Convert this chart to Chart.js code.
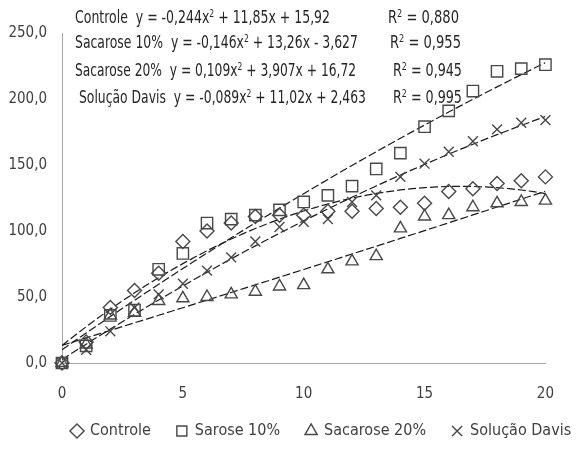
<!DOCTYPE html>
<html>
<head>
<meta charset="utf-8">
<script src="https://cdn.jsdelivr.net/npm/chart.js@4"></script>
<style>
    html, body { margin: 0; padding: 0; background: #fff; }
    #wrap { position: relative; width: 576px; height: 453px; overflow: hidden; }
    .eq {
        position: absolute;
        font-family: 'DejaVu Sans Condensed', 'DejaVu Sans', sans-serif;
        font-size: 18px;
        line-height: 20px;
        color: #262626;
        white-space: pre;
        transform-origin: 0 0;
    }
    .eq sup { font-size: 0.62em; line-height: 0; vertical-align: 0.55em; }
</style>
</head>
<body>
<div id="wrap">
    <canvas id="chart" width="576" height="453"></canvas>
</div>
<script>
// ====================================
// DATA
// ====================================

const days = [0, 1, 2, 3, 4, 5, 6, 7, 8, 9, 10, 11, 12, 13, 14, 15, 16, 17, 18, 19, 20];

const controle   = [0, 16, 42, 55, 68, 92, 100, 106, 111, 112, 112, 115, 115, 117, 118, 121, 130, 132, 136, 138, 141];
const sacarose10 = [0, 13, 36, 40, 71, 83, 106, 109, 112, 116, 122, 127, 134, 147, 159, 179, 191, 206, 221, 223, 226];
const sacarose20 = [0, 14, 36, 38, 47, 49, 50, 52, 54, 58, 59, 71, 77, 81, 102, 111, 112, 118, 121, 122, 123];
const davis      = [0, 10, 24, 42, 52, 60, 70, 80, 92, 103, 107, 109, 122, 127, 141, 151, 160, 168, 177, 182, 184];

const legendNames = ['Controle', 'Sarose 10%', 'Sacarose 20%', 'Solução Davis'];
const pointStyles = ['rectRot', 'rect', 'triangle', 'crossRot'];

const yTicks = [0, 50, 100, 150, 200, 250];
const xTicks = [0, 5, 10, 15, 20];

// equation box text
const fitNames = ['Controle', 'Sacarose 10%', 'Sacarose 20%', 'Solução Davis'];
const fitEquations = [
    'y = -0,244x<sup>2</sup> + 11,85x + 15,92',
    'y = -0,146x<sup>2</sup> + 13,26x - 3,627',
    'y = 0,109x<sup>2</sup> + 3,907x + 16,72',
    'y = -0,089x<sup>2</sup> + 11,02x + 2,463'
];
const fitR2 = ['0,880', '0,955', '0,945', '0,995'];

const FONT = "'DejaVu Sans Condensed', 'DejaVu Sans', sans-serif";
const TEXT_COLOR = '#404040';
const MARK_COLOR = '#484848';

// ====================================
// HELPERS
// ====================================

// least squares fit of y = a + b*x + c*x^2
function quadFit(xs, ys) {
    let s = [0, 0, 0, 0, 0];
    let t = [0, 0, 0];
    xs.forEach((x, i) => {
        for (let k = 0; k < 5; k++) s[k] += Math.pow(x, k);
        for (let k = 0; k < 3; k++) t[k] += ys[i] * Math.pow(x, k);
    });
    const m = [
        [s[0], s[1], s[2], t[0]],
        [s[1], s[2], s[3], t[1]],
        [s[2], s[3], s[4], t[2]]
    ];
    // gauss elimination
    for (let i = 0; i < 3; i++) {
        for (let j = i + 1; j < 3; j++) {
            const f = m[j][i] / m[i][i];
            for (let k = i; k < 4; k++) m[j][k] -= f * m[i][k];
        }
    }
    const c = [0, 0, 0];
    for (let i = 2; i >= 0; i--) {
        let v = m[i][3];
        for (let k = i + 1; k < 3; k++) v -= m[i][k] * c[k];
        c[i] = v / m[i][i];
    }
    return c;
}

function trendPoints(ys) {
    const c = quadFit(days, ys);
    const pts = [];
    for (let x = days[0]; x <= days[days.length - 1] + 0.001; x += 0.5) {
        pts.push({ x: x, y: c[0] + c[1] * x + c[2] * x * x });
    }
    return pts;
}

function toPoints(ys) {
    return days.map((d, i) => ({ x: d, y: ys[i] }));
}

// ====================================
// EQUATION LABELS
// ====================================

function addLabel(html, left, top, width) {
    const el = document.createElement('div');
    el.className = 'eq';
    el.style.left = left + 'px';
    el.style.top = top + 'px';
    el.innerHTML = html;
    document.getElementById('wrap').appendChild(el);
    // squeeze to the narrow look of the original
    const w = el.getBoundingClientRect().width;
    el.style.transform = 'scaleX(' + (width / w).toFixed(3) + ')';
}

function drawEquations() {
    const lineTops = [7, 32, 60, 87];
    const eqLeft = [75, 75, 75, 79];
    const eqRight = [330, 358, 356, 366];
    const r2Left = [388, 390, 393, 393];
    const r2Right = [459, 461, 462, 462];

    fitNames.forEach((name, i) => {
        addLabel(name + '  ' + fitEquations[i], eqLeft[i], lineTops[i], eqRight[i] - eqLeft[i]);
        addLabel('R<sup>2</sup> = ' + fitR2[i], r2Left[i], lineTops[i], r2Right[i] - r2Left[i]);
    });
}

// ====================================
// CHART
// ====================================

// nudge the legend to where the original has it
const legendShift = {
    id: 'legendShift',
    afterLayout(chart) {
        const lg = chart.legend;
        lg.left += 46;
        lg.right += 46;
        lg.top -= 4;
        lg.bottom -= 4;
    }
};

document.addEventListener('DOMContentLoaded', function() {
    drawEquations();

    const series = [controle, sacarose10, sacarose20, davis];

    const markerSets = series.map((ys, i) => ({
        label: legendNames[i],
        data: toPoints(ys),
        showLine: false,
        clip: false,
        pointStyle: pointStyles[i],
        pointRadius: i === 1 ? 8 : 7,
        borderColor: MARK_COLOR,
        backgroundColor: 'rgba(0,0,0,0)',
        pointBorderWidth: 1.4
    }));

    const trendSets = series.map(ys => ({
        label: 'trend',
        data: trendPoints(ys),
        showLine: true,
        pointRadius: 0,
        borderColor: '#1a1a1a',
        borderWidth: 1.2,
        borderDash: [8, 3],
        fill: false
    }));

    new Chart(document.getElementById('chart'), {
        type: 'scatter',
        data: { datasets: markerSets.concat(trendSets) },
        plugins: [legendShift],
        options: {
            responsive: false,
            animation: false,
            layout: { padding: { top: 33, right: 12, left: 0, bottom: 0 } },
            plugins: {
                tooltip: { enabled: false },
                legend: {
                    position: 'bottom',
                    align: 'start',
                    labels: {
                        usePointStyle: true,
                        boxWidth: 10,
                        boxHeight: 10,
                        padding: 26,
                        color: TEXT_COLOR,
                        font: { family: FONT, size: 16 },
                        filter: item => item.datasetIndex < 4
                    }
                }
            },
            scales: {
                x: {
                    type: 'linear',
                    min: xTicks[0],
                    max: xTicks[xTicks.length - 1],
                    afterBuildTicks: s => { s.ticks = xTicks.map(v => ({ value: v })); },
                    afterFit: s => { s.height = 38; },
                    ticks: { padding: 22, color: TEXT_COLOR, font: { family: FONT, size: 15 } },
                    grid: { display: false, drawTicks: false },
                    border: { color: '#a6a6a6' }
                },
                y: {
                    min: yTicks[0],
                    max: yTicks[yTicks.length - 1],
                    afterBuildTicks: s => { s.ticks = yTicks.map(v => ({ value: v })); },
                    afterFit: s => { s.width = 62; },
                    ticks: {
                        padding: 15,
                        color: TEXT_COLOR,
                        font: { family: FONT, size: 15 },
                        callback: v => v.toFixed(1).replace('.', ',')
                    },
                    grid: { display: false, drawTicks: false },
                    border: { color: '#a6a6a6' }
                }
            }
        }
    });
});
</script>
</body>
</html>
